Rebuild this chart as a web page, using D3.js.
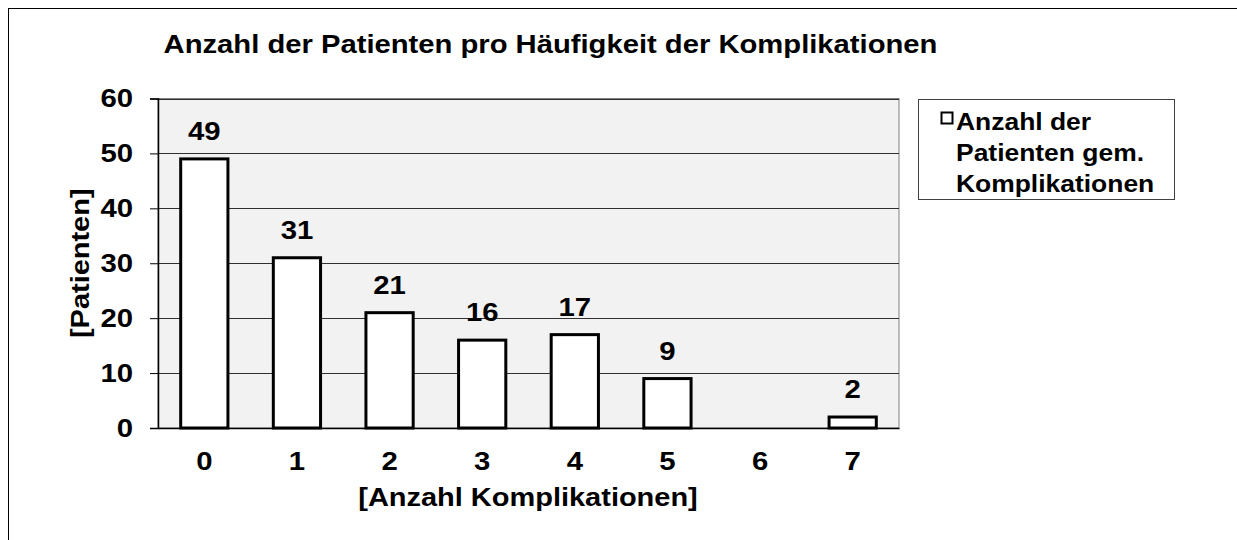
<!DOCTYPE html>
<html>
<head>
<meta charset="utf-8">
<script src="https://cdn.jsdelivr.net/npm/d3@7"></script>
<style>
  body { margin: 0; background: #fff; }
  text { font-family: "Liberation Sans", Arial, sans-serif; font-weight: bold; fill: #000; }
</style>
</head>
<body>
<div id="chart"></div>
<script>
const width = 1237;
const height = 540;
const margin = { top: 98.5, right: 338, bottom: 112, left: 158 };
const stretch = 1.15; // the original lettering is drawn a bit wide

// data
const categories = ["0", "1", "2", "3", "4", "5", "6", "7"];
const patients = [49, 31, 21, 16, 17, 9, 0, 2];
const yTicks = [0, 10, 20, 30, 40, 50, 60];
const legendLines = ["Anzahl der", "Patienten gem.", "Komplikationen"];

const bars = categories.map((c, i) => ({ cat: c, value: patients[i] }));

const svg = d3.select("#chart")
    .append("svg")
    .attr("width", width)
    .attr("height", height);

// put a text at (x, y) with wide letters
function wide(sel, x, y, rot) {
    sel.attr("x", 0).attr("y", 0)
        .attr("transform", `translate(${x}, ${y})` + (rot ? ` rotate(${rot})` : "") + ` scale(${stretch}, 1)`);
    return sel;
}

// outer frame (runs off the picture on the right and bottom)
svg.append("rect")
    .attr("x", 8.5)
    .attr("y", 8.5)
    .attr("width", width + 20)
    .attr("height", height + 20)
    .attr("fill", "none")
    .attr("stroke", "#000")
    .attr("stroke-width", 1);

const x = d3.scaleBand()
    .domain(categories)
    .range([margin.left, width - margin.right])
    .paddingInner(0.49)
    .paddingOuter(0.245);

const y = d3.scaleLinear()
    .domain([0, 60])
    .range([height - margin.bottom, margin.top]);

// plot area
svg.append("rect")
    .attr("x", margin.left)
    .attr("y", y(60))
    .attr("width", width - margin.right - margin.left)
    .attr("height", y(0) - y(60))
    .attr("fill", "#f2f2f2")
    .attr("stroke", "#808080")
    .attr("stroke-width", 1);

// gridlines
svg.append("g")
    .selectAll("line")
    .data(yTicks.filter(d => d > 0))
    .join("line")
    .attr("x1", margin.left)
    .attr("x2", width - margin.right)
    .attr("y1", d => Math.round(y(d)) + 0.5)
    .attr("y2", d => Math.round(y(d)) + 0.5)
    .attr("stroke", "#303030")
    .attr("stroke-width", 1);

// y axis
const yAxis = d3.axisLeft(y)
    .tickValues(yTicks)
    .tickSize(8)
    .tickPadding(17);

svg.append("g")
    .attr("transform", `translate(${margin.left}, 0)`)
    .call(yAxis)
    .call(g => g.select(".domain").attr("stroke", "#000").attr("stroke-width", 1.5))
    .call(g => g.selectAll(".tick line").attr("stroke", "#000"))
    .call(g => g.selectAll(".tick text")
        .attr("font-size", 25.5)
        .attr("font-family", "Liberation Sans, Arial, sans-serif")
        .attr("font-weight", "bold")
        .attr("fill", "#000")
        .each(function () {
            wide(d3.select(this), -25, 0);
        }));

// x axis
const xAxis = d3.axisBottom(x)
    .tickSize(0)
    .tickPadding(24);

svg.append("g")
    .attr("transform", `translate(0, ${y(0)})`)
    .call(xAxis)
    .call(g => g.select(".domain").attr("stroke", "#000").attr("stroke-width", 1.5))
    .call(g => g.selectAll(".tick text")
        .attr("font-size", 25.5)
        .attr("font-family", "Liberation Sans, Arial, sans-serif")
        .attr("font-weight", "bold")
        .attr("fill", "#000")
        .each(function () {
            wide(d3.select(this), 0, 24);
        }));

// bars
svg.append("g")
    .selectAll("rect")
    .data(bars.filter(d => d.value > 0))
    .join("rect")
    .attr("x", d => x(d.cat))
    .attr("y", d => y(d.value))
    .attr("width", x.bandwidth())
    .attr("height", d => y(0) - y(d.value))
    .attr("fill", "#fff")
    .attr("stroke", "#000")
    .attr("stroke-width", 3);

// value labels
svg.append("g")
    .selectAll("text")
    .data(bars.filter(d => d.value > 0))
    .join("text")
    .attr("text-anchor", "middle")
    .attr("font-size", 25.5)
    .text(d => d.value)
    .each(function (d) {
        wide(d3.select(this), x(d.cat) + x.bandwidth() / 2, y(d.value) - 19);
    });

// title
svg.append("text")
    .attr("text-anchor", "middle")
    .attr("font-size", 25.4)
    .text("Anzahl der Patienten pro Häufigkeit der Komplikationen")
    .call(wide, 550.5, 53);

// axis titles
svg.append("text")
    .attr("text-anchor", "middle")
    .attr("font-size", 25.2)
    .text("[Anzahl Komplikationen]")
    .call(wide, 528, 506);

svg.append("text")
    .attr("text-anchor", "middle")
    .attr("font-size", 25.2)
    .text("[Patienten]")
    .call(wide, 89, (y(0) + y(60)) / 2, -90);

// legend
const legend = svg.append("g");

legend.append("rect")
    .attr("x", 918.5)
    .attr("y", 99.5)
    .attr("width", 256)
    .attr("height", 100)
    .attr("fill", "#fff")
    .attr("stroke", "#404040")
    .attr("stroke-width", 1);

legend.append("rect")
    .attr("x", 941.5)
    .attr("y", 112.5)
    .attr("width", 11)
    .attr("height", 11)
    .attr("fill", "#fff")
    .attr("stroke", "#000")
    .attr("stroke-width", 2);

legend.selectAll("text.leg")
    .data(legendLines)
    .join("text")
    .attr("class", "leg")
    .attr("font-size", 23)
    .text(d => d)
    .each(function (d, i) {
        wide(d3.select(this), 956, 129.5 + i * 31);
    });
</script>
</body>
</html>
